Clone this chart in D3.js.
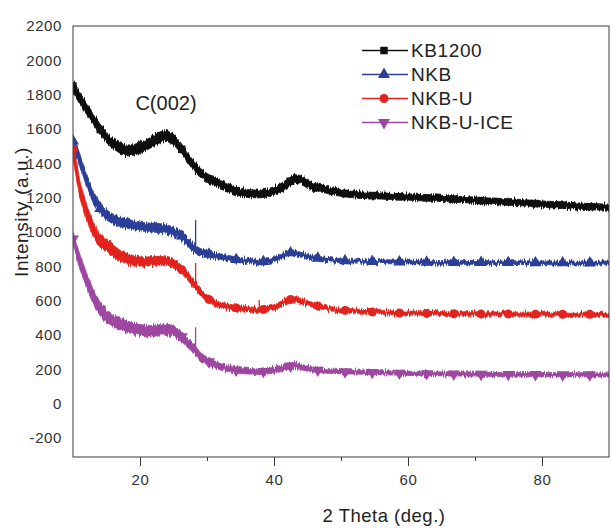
<!DOCTYPE html>
<html>
<head>
<meta charset="utf-8">
<script src="https://cdn.jsdelivr.net/npm/d3@7"></script>
<style>
  body { margin: 0; background: #fff; }
  svg { display: block; font-family: "Liberation Sans", Arial, sans-serif; }
</style>
</head>
<body>
<svg id="chart" width="611" height="528"></svg>
<script>
// XRD patterns: 2θ from 10° to 90° in 1° steps
const angles = d3.range(10, 91, 1);

const seriesNames = ["KB1200", "NKB", "NKB-U", "NKB-U-ICE"];

// mean intensity (a.u.) at each angle
const kb1200 = [
  1850,1780,1720,1660,1600,1550,1515,1490,1475,1478,
  1490,1508,1530,1552,1560,1540,1495,1440,1385,1345,
  1315,1295,1275,1262,1245,1232,1225,1222,1222,1228,
  1240,1258,1283,1310,1305,1278,1262,1255,1245,1235,
  1228,1222,1218,1215,1213,1212,1210,1208,1207,1205,
  1204,1202,1200,1199,1198,1196,1194,1192,1190,1188,
  1185,1183,1181,1179,1177,1175,1173,1171,1169,1166,
  1163,1161,1159,1157,1155,1152,1150,1148,1147,1146,1145
];
const nkb = [
  1530,1420,1300,1205,1140,1100,1075,1060,1050,1040,
  1033,1028,1025,1024,1018,1003,985,948,905,885,
  875,865,857,850,842,836,832,828,826,830,
  838,855,878,880,868,858,850,845,840,836,
  834,832,830,830,829,828,828,827,826,826,
  825,825,825,824,824,824,824,823,823,823,
  823,823,822,822,822,822,822,822,821,821,
  821,821,821,821,820,820,820,820,820,820,820
];
const nkbU = [
  1480,1250,1115,1020,950,925,890,862,845,835,
  828,828,832,833,828,815,790,750,700,650,
  615,590,575,567,560,555,551,548,547,552,
  562,580,603,612,598,585,575,565,556,550,
  546,543,540,538,536,534,532,530,529,528,
  527,527,526,526,525,525,525,524,524,524,
  524,523,523,523,523,523,522,522,522,522,
  522,522,522,521,521,521,521,521,521,521,521
];
const nkbUIce = [
  960,830,720,625,555,510,485,465,450,438,
  430,426,425,430,434,425,400,360,322,275,
  250,232,215,207,198,193,190,188,187,190,
  195,205,218,222,215,205,198,194,191,189,
  187,186,185,184,183,182,181,180,179,178,
  177,176,176,175,175,174,174,173,173,173,
  172,172,172,171,171,171,171,170,170,170,
  170,170,169,169,169,169,169,169,168,168,168
];

// half-width of the counting-noise band at each angle (a.u.)
const kb1200Noise = [
  40,38,36,35,34, 34,33,34,35,34, 35,34,35,36,35, 34,33,32,31,30,
  29,28,28,27,27, 26,26,25,25,26, 26,27,28,28,27, 26,25,24,23,23,
  22,22,21,22,21, 21,20,21,20,21, 20,21,20,20,21, 20,20,21,20,20,
  21,20,20,21,20, 20,21,20,20,21, 20,20,21,20,20, 21,20,20,21,20, 20
];
const nkbNoise = [
  40,42,40,38,36, 33,32,30,30,29, 29,28,29,28,28, 28,27,27,26,22,
  20,19,18,18,17, 17,16,16,16,16, 17,18,18,17,16, 15,15,14,14,13,
  12,13,12,12,13, 12,12,13,12,12, 13,12,12,13,12, 12,13,12,12,13,
  12,12,13,12,12, 13,12,12,13,12, 12,13,12,12,13, 12,12,13,12,12, 12
];
const nkbUNoise = [
  60,55,50,46,42, 40,38,36,34,32, 30,30,29,29,29, 28,28,27,25,23,
  20,19,18,18,17, 17,16,16,16,16, 17,18,18,17,16, 15,15,14,14,14,
  13,14,13,13,14, 13,13,14,13,13, 14,13,13,14,13, 13,14,13,13,14,
  13,13,14,13,13, 14,13,13,14,13, 13,14,13,13,14, 13,13,14,13,13, 13
];
const nkbUIceNoise = [
  35,48,50,47,44, 40,38,37,36,36, 35,35,34,34,34, 33,32,31,30,27,
  24,22,21,20,20, 19,18,18,18,18, 19,20,20,19,18, 17,16,15,15,14,
  13,14,13,13,14, 13,13,14,13,13, 14,13,13,14,13, 13,14,13,13,14,
  13,13,14,13,13, 14,13,13,14,13, 13,14,13,13,14, 13,13,14,13,13, 13
];

// narrow sharp reflections (angle, peak intensity) per series
const kb1200Spikes = [];
const nkbSpikes = [[28.3, 1069]];
const nkbUSpikes = [[28.3, 820], [37.8, 605]];
const nkbUIceSpikes = [[28.3, 446]];

const yTicks = d3.range(-200, 2201, 200);
const xMajorTicks = [20, 40, 60, 80];
const xMinorTicks = [30, 50, 70];
const markerStep = 4.06;   // symbol every 4.06° along each pattern

const colors = ["#111111", "#2c3f98", "#e4231e", "#9d47a2"];
const symbols = [d3.symbolSquare, d3.symbolTriangle, d3.symbolCircle, d3.symbolTriangle];
const symbolRotate = [0, 0, 0, 180];
const symbolSize = [56, 62, 62, 62];

const series = [
  { name: seriesNames[0], values: kb1200, noise: kb1200Noise, spikes: kb1200Spikes },
  { name: seriesNames[1], values: nkb, noise: nkbNoise, spikes: nkbSpikes },
  { name: seriesNames[2], values: nkbU, noise: nkbUNoise, spikes: nkbUSpikes },
  { name: seriesNames[3], values: nkbUIce, noise: nkbUIceNoise, spikes: nkbUIceSpikes }
];

const svg = d3.select("#chart");
const plotLeft = 73, plotRight = 609, plotTop = 26, plotBottom = 457;

const x = d3.scaleLinear().domain([10, 90]).range([plotLeft, plotRight]);
const y = d3.scaleLinear().domain([-310, 2200]).range([plotBottom, plotTop]);

const defs = svg.append("defs");
defs.append("clipPath").attr("id", "plotClip")
  .append("rect").attr("x", plotLeft).attr("y", plotTop)
  .attr("width", plotRight - plotLeft).attr("height", plotBottom - plotTop);

// column-wise vertical jitter: gives the traces their grainy counting-noise edge
const grain = defs.append("filter").attr("id", "grain")
  .attr("filterUnits", "userSpaceOnUse")
  .attr("x", 0).attr("y", 0).attr("width", 611).attr("height", 528);
grain.append("feTurbulence")
  .attr("type", "fractalNoise").attr("baseFrequency", "1.1 0.04")
  .attr("numOctaves", 1).attr("seed", 5).attr("result", "t");
grain.append("feColorMatrix").attr("in", "t").attr("type", "matrix")
  .attr("values", "0 0 0 0 0.5  0 2 0 0 -0.5  0 0 0 0 0  0 0 0 0 1")
  .attr("result", "shift");
grain.append("feDisplacementMap")
  .attr("in", "SourceGraphic").attr("in2", "shift")
  .attr("scale", 4).attr("xChannelSelector", "R").attr("yChannelSelector", "G");

const plot = svg.append("g").attr("clip-path", "url(#plotClip)");

series.forEach((s, i) => {
  const pts = angles.map((a, k) => ({ a, v: s.values[k], n: s.noise[k] }));
  const g = plot.append("g");
  const trace = g.append("g").attr("filter", "url(#grain)");

  trace.append("path")
    .datum(pts)
    .attr("fill", colors[i])
    .attr("stroke", colors[i])
    .attr("stroke-width", 0.8)
    .attr("d", d3.area()
      .x(d => x(d.a))
      .y0(d => y(d.v - d.n * 0.9))
      .y1(d => y(d.v + d.n * 0.9)));

  trace.append("path")
    .datum(pts)
    .attr("fill", "none")
    .attr("stroke", colors[i])
    .attr("stroke-width", 1.2)
    .attr("d", d3.line().x(d => x(d.a)).y(d => y(d.v)));

  const along = d3.scaleLinear().domain(angles).range(s.values);

  s.spikes.forEach(([a, peak]) => {
    g.append("line")
      .attr("x1", x(a)).attr("x2", x(a))
      .attr("y1", y(along(a))).attr("y2", y(peak))
      .attr("stroke", colors[i]).attr("stroke-width", 1.3);
  });

  const marks = d3.range(10, 90, markerStep);
  g.selectAll("path.mk")
    .data(marks)
    .join("path")
    .attr("class", "mk")
    .attr("fill", colors[i])
    .attr("transform", a => `translate(${x(a)},${y(along(a))}) rotate(${symbolRotate[i]})`)
    .attr("d", d3.symbol().type(symbols[i]).size(symbolSize[i]));
});

// frame
svg.append("rect")
  .attr("x", plotLeft).attr("y", plotTop)
  .attr("width", plotRight - plotLeft).attr("height", plotBottom - plotTop)
  .attr("fill", "none").attr("stroke", "#3a3a3a").attr("stroke-width", 1);

// x axis
svg.append("g").attr("transform", `translate(0,${plotBottom})`)
  .call(d3.axisBottom(x).tickValues(xMajorTicks).tickSize(9).tickPadding(8).tickSizeOuter(0));
svg.append("g").attr("transform", `translate(0,${plotBottom})`)
  .call(d3.axisBottom(x).tickValues(xMinorTicks).tickSize(4).tickFormat("").tickSizeOuter(0));

// y axis
svg.append("g").attr("transform", `translate(${plotLeft},0)`)
  .call(d3.axisLeft(y).tickValues(yTicks).tickFormat(d => String(d)).tickSize(0).tickPadding(11));

svg.selectAll(".domain").remove();
svg.selectAll(".tick line").attr("stroke", "#3a3a3a");
svg.selectAll(".tick text")
  .attr("fill", "#333")
  .style("font-size", "15px")
  .style("letter-spacing", "0.6px")
  .style("font-family", "'Liberation Sans', Arial, sans-serif");

// axis titles
svg.append("text")
  .attr("x", 384).attr("y", 522)
  .attr("text-anchor", "middle")
  .attr("fill", "#222")
  .style("font-size", "18.5px")
  .style("letter-spacing", "0.5px")
  .text("2 Theta  (deg.)");

svg.append("text")
  .attr("transform", "translate(28,212) rotate(-90)")
  .attr("text-anchor", "middle")
  .attr("fill", "#222")
  .style("font-size", "19px")
  .style("letter-spacing", "0.6px")
  .text("Intensity  (a.u.)");

// peak annotation
svg.append("text")
  .attr("x", 166).attr("y", 110)
  .attr("text-anchor", "middle")
  .attr("fill", "#222")
  .style("font-size", "20px")
  .text("C(002)");

// legend
const legend = svg.append("g");
const legendY = [50.5, 74.5, 98.5, 122.5];
series.forEach((s, i) => {
  const row = legend.append("g").attr("transform", `translate(0,${legendY[i]})`);
  row.append("line").attr("x1", 362).attr("x2", 408).attr("y1", 0).attr("y2", 0)
    .attr("stroke", colors[i]).attr("stroke-width", 1.3);
  row.append("path")
    .attr("transform", `translate(384,0) rotate(${symbolRotate[i]})`)
    .attr("fill", colors[i])
    .attr("d", d3.symbol().type(symbols[i]).size(symbolSize[i]));
  row.append("text")
    .attr("x", 411).attr("y", 0).attr("dy", "0.36em")
    .attr("fill", "#222")
    .style("font-size", "19px")
    .style("letter-spacing", "0.6px")
    .text(s.name);
});
</script>
</body>
</html>
